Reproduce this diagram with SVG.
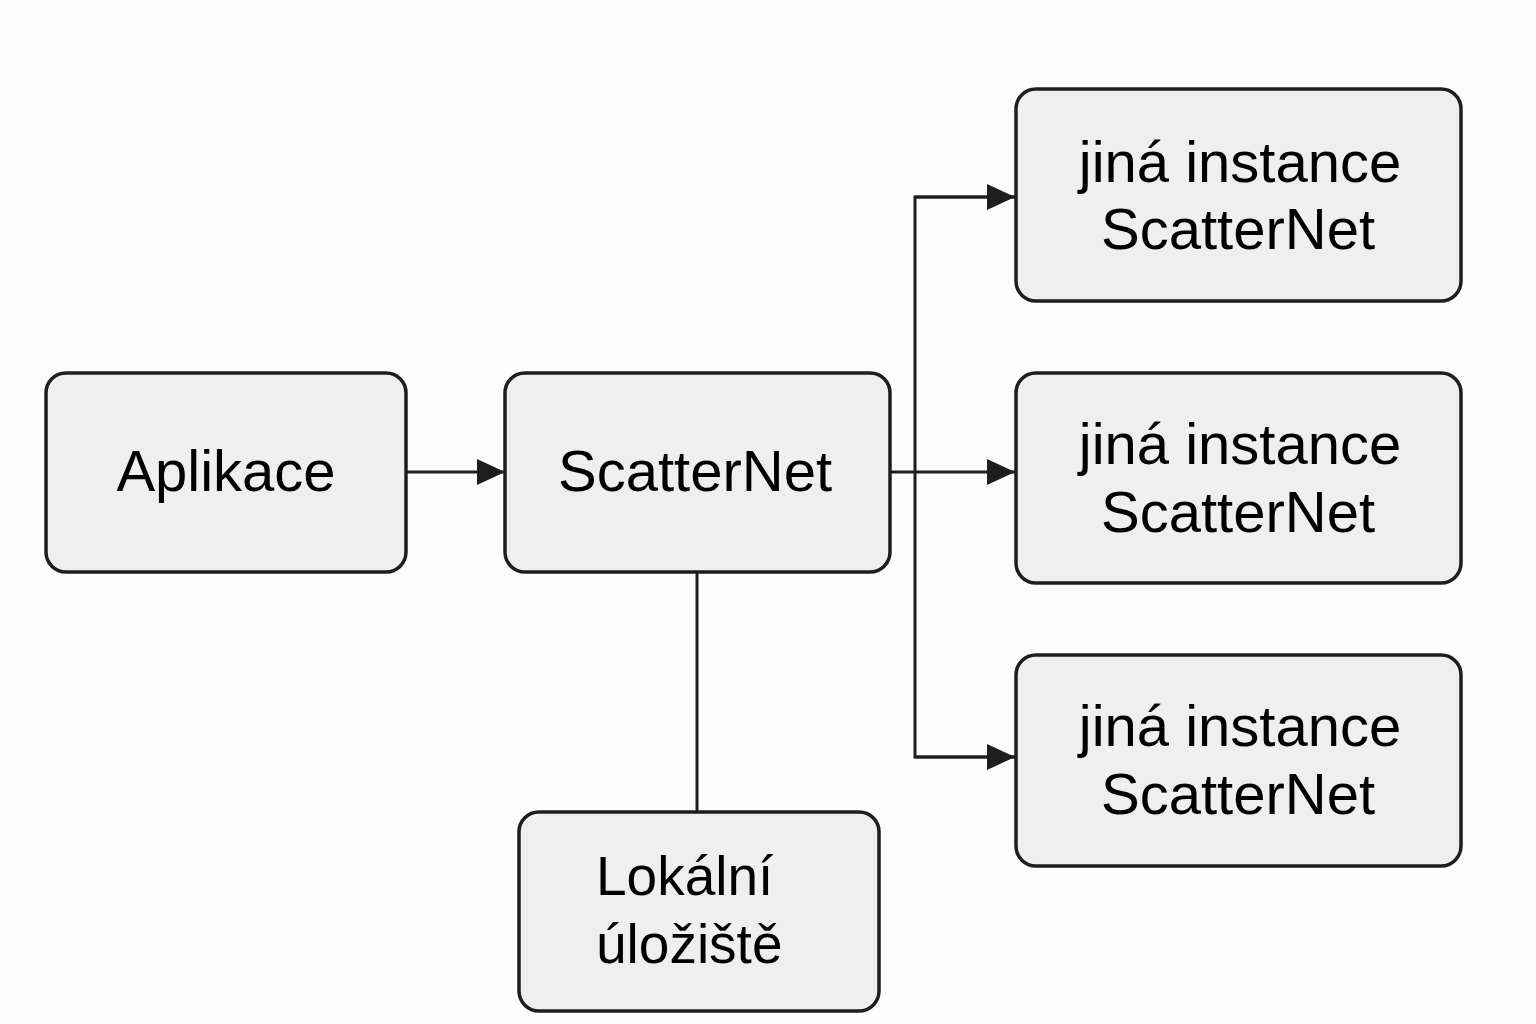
<svg xmlns="http://www.w3.org/2000/svg" width="1536" height="1024" viewBox="0 0 1536 1024">
<style>
.box{fill:#efefef;stroke:#1e1e1e;stroke-width:3.5}
.t{font-family:"Liberation Sans",Arial,sans-serif;font-size:58px;fill:#000}
.c{fill:none;stroke:#1e1e1e;stroke-width:3}
</style>
<defs>
<marker id="ah" markerUnits="userSpaceOnUse" markerWidth="30" markerHeight="26" refX="28" refY="13" orient="auto">
<path d="M0,0 L28,13 L0,26 Z" fill="#1e1e1e"/>
</marker>
</defs>
<rect width="1536" height="1024" fill="#fcfcfc"/>
<g id="connectors">
<line class="c" x1="406" y1="472" x2="505" y2="472" marker-end="url(#ah)"/>
<line class="c" x1="890" y1="472" x2="1015" y2="472" marker-end="url(#ah)"/>
<polyline class="c" points="1015,197 915,197 915,757 1015,757"/>
<line class="c" x1="915" y1="197" x2="1015" y2="197" marker-end="url(#ah)"/>
<line class="c" x1="915" y1="757" x2="1015" y2="757" marker-end="url(#ah)"/>
<line class="c" x1="697" y1="572" x2="697" y2="812"/>
</g>
<g id="aplikace">
<rect class="box" x="46" y="373" width="360" height="199" rx="20"/>
<text class="t" x="226" y="491" text-anchor="middle">Aplikace</text>
</g>
<g id="scatternet">
<rect class="box" x="505" y="373" width="385" height="199" rx="20"/>
<text class="t" x="695" y="491" text-anchor="middle">ScatterNet</text>
</g>
<g id="instance1">
<rect class="box" x="1016" y="89" width="445" height="212" rx="20"/>
<text class="t" x="1240" y="182" text-anchor="middle">jiná instance</text>
<text class="t" x="1238" y="249" text-anchor="middle">ScatterNet</text>
</g>
<g id="instance2">
<rect class="box" x="1016" y="373" width="445" height="210" rx="20"/>
<text class="t" x="1240" y="464" text-anchor="middle">jiná instance</text>
<text class="t" x="1238" y="532" text-anchor="middle">ScatterNet</text>
</g>
<g id="instance3">
<rect class="box" x="1016" y="655" width="445" height="211" rx="20"/>
<text class="t" x="1240" y="746" text-anchor="middle">jiná instance</text>
<text class="t" x="1238" y="814" text-anchor="middle">ScatterNet</text>
</g>
<g id="ulozise">
<rect class="box" x="519" y="812" width="360" height="199" rx="20"/>
<text class="t" x="596" y="895" style="font-size:55px">Lokální</text>
<text class="t" x="596" y="963" style="font-size:55px">úložiště</text>
</g>
</svg>
